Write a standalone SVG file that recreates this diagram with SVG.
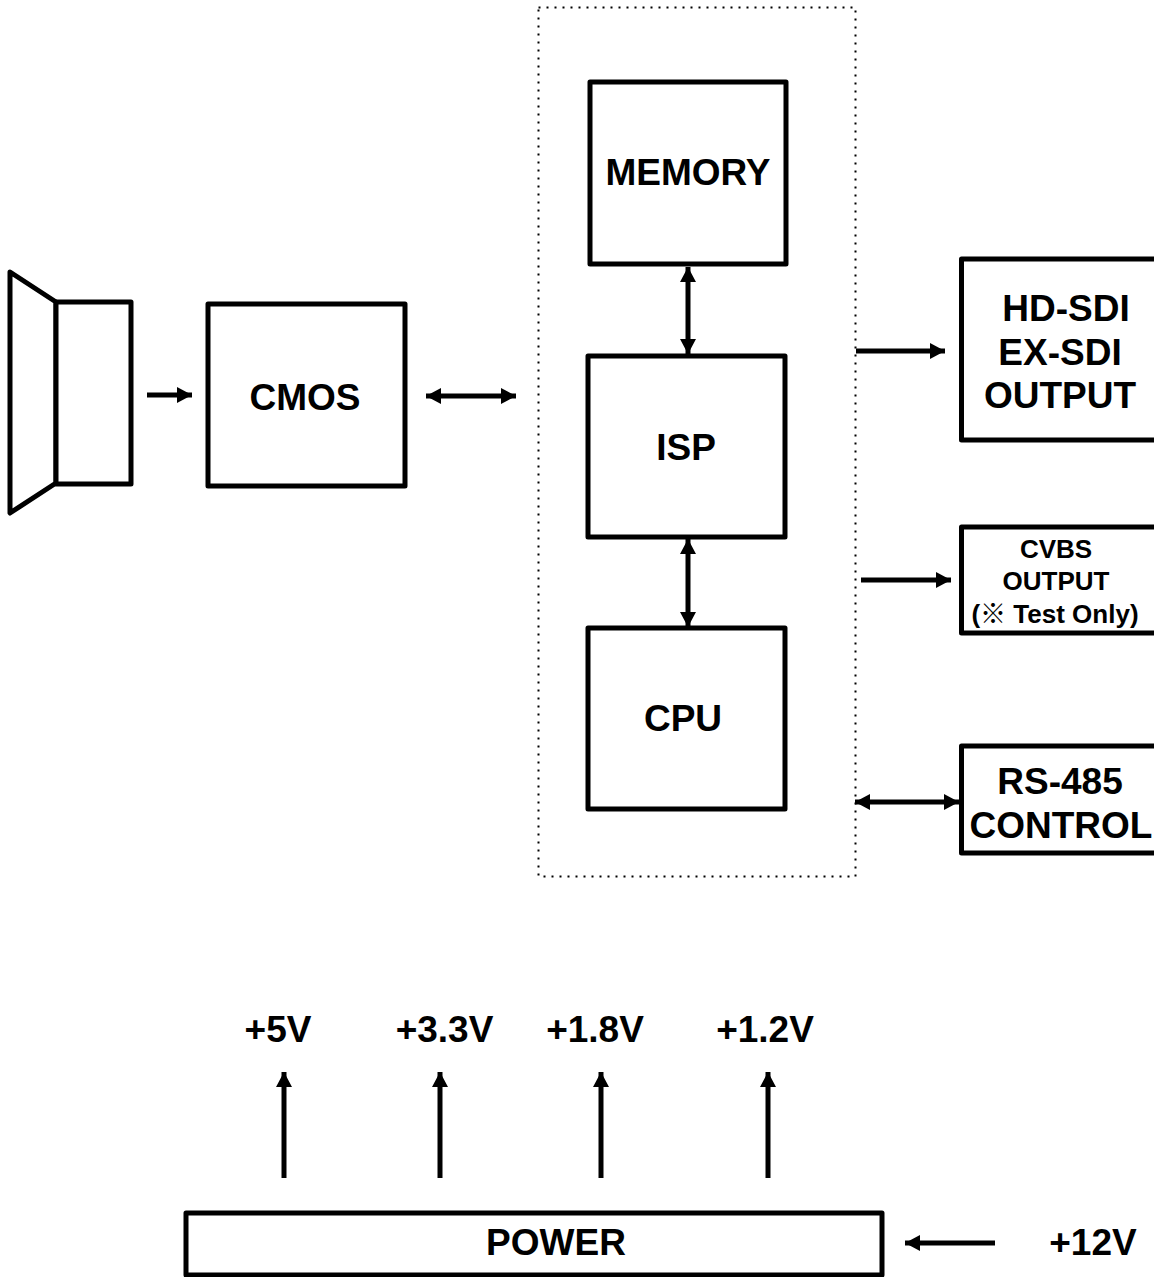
<svg xmlns="http://www.w3.org/2000/svg" width="1154" height="1277" viewBox="0 0 1154 1277">
<style>
.box{fill:#fff;stroke:#000;stroke-width:5;stroke-linejoin:round}
.c{stroke:#000;stroke-width:5;fill:none}
.t{font-family:"Liberation Sans",Arial,sans-serif;font-weight:700;font-size:37px;fill:#000;text-anchor:middle}
.s{font-size:26px}
</style>
<defs>
<marker id="end" markerUnits="userSpaceOnUse" markerWidth="16" markerHeight="16" refX="15" refY="8" orient="auto-start-reverse"><path d="M0 0L15 8L0 16Z" fill="#000"/></marker>
</defs>
<rect width="1154" height="1277" fill="#fff"/>
<g id="group-boundary"><rect x="538.500" y="7.500" width="317" height="869" fill="none" stroke="#000" stroke-width="2" stroke-dasharray="2 6"/></g>
<g id="lens">
<path class="box" d="M10 272L56 302V483L10 513Z"/>
<rect class="box" x="56" y="302" width="75" height="182"/>
</g>
<g id="cmos"><rect class="box" x="208" y="304" width="197" height="182"/><text class="t" x="305" y="410">CMOS</text></g>
<g id="memory"><rect class="box" x="590" y="82" width="196" height="182"/><text class="t" x="688" y="185">MEMORY</text></g>
<g id="isp"><rect class="box" x="588" y="356" width="197" height="181"/><text class="t" x="686" y="460">ISP</text></g>
<g id="cpu"><rect class="box" x="588" y="628" width="197" height="181"/><text class="t" x="683" y="731">CPU</text></g>
<g id="hd-sdi"><rect class="box" x="961.500" y="259" width="205" height="181"/><text class="t" x="1066" y="321">HD-SDI</text><text class="t" x="1060" y="365">EX-SDI</text><text class="t" x="1060" y="408">OUTPUT</text></g>
<g id="cvbs"><rect class="box" x="961.500" y="527" width="205" height="106"/><text class="t s" x="1056" y="558">CVBS</text><text class="t s" x="1056" y="590">OUTPUT</text><text class="t s" x="1055" y="623">(<tspan font-family="'Noto Sans CJK KR',sans-serif" font-weight="400">※</tspan> Test Only)</text></g>
<g id="rs485"><rect class="box" x="961.500" y="746" width="205" height="107"/><text class="t" x="1060" y="794">RS-485</text><text class="t" x="1061" y="838">CONTROL</text></g>
<g id="power"><rect class="box" x="186" y="1213" width="696" height="62"/><text class="t" x="556" y="1255">POWER</text></g>
<g id="connectors">
<path class="c" d="M147 395H192" marker-end="url(#end)"/>
<path class="c" d="M426 396H516" marker-start="url(#end)" marker-end="url(#end)"/>
<path class="c" d="M688 267V354" marker-start="url(#end)" marker-end="url(#end)"/>
<path class="c" d="M688 539V627" marker-start="url(#end)" marker-end="url(#end)"/>
<path class="c" d="M856 351H945" marker-end="url(#end)"/>
<path class="c" d="M861 580H951" marker-end="url(#end)"/>
<path class="c" d="M855 802H959" marker-start="url(#end)" marker-end="url(#end)"/>
<path class="c" d="M284 1178V1072" marker-end="url(#end)"/>
<path class="c" d="M440 1178V1072" marker-end="url(#end)"/>
<path class="c" d="M601 1178V1072" marker-end="url(#end)"/>
<path class="c" d="M768 1178V1072" marker-end="url(#end)"/>
<path class="c" d="M995 1243H905" marker-end="url(#end)"/>
</g>
<g id="voltages">
<text class="t" x="278" y="1042">+5V</text>
<text class="t" x="444.500" y="1042">+3.3V</text>
<text class="t" x="595" y="1042">+1.8V</text>
<text class="t" x="765" y="1042">+1.2V</text>
<text class="t" x="1093" y="1255">+12V</text>
</g>
</svg>
